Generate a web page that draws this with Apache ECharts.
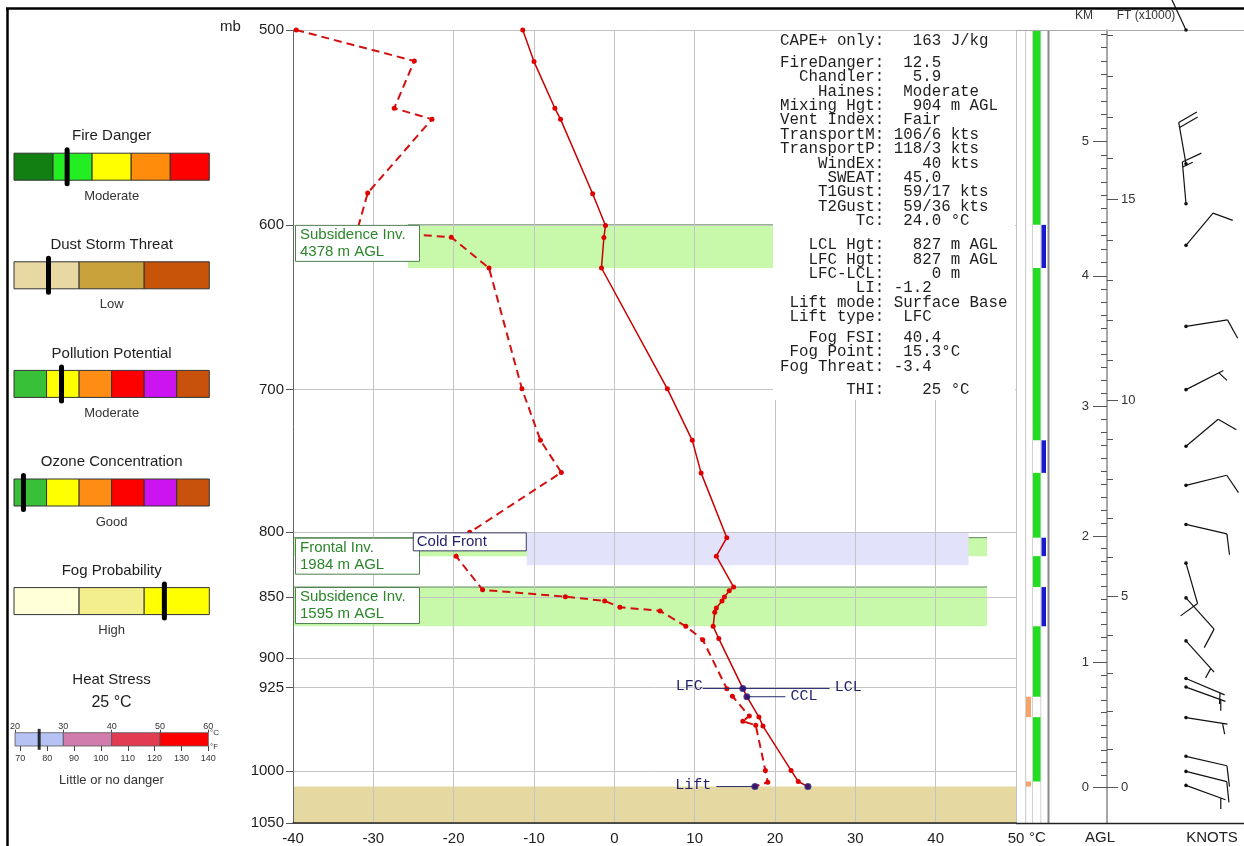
<!DOCTYPE html>
<html>
<head>
<meta charset="utf-8">
<title>Sounding</title>
<script src="https://cdn.jsdelivr.net/npm/echarts@6.0.0/dist/echarts.min.js"></script>
<style>
html,body{margin:0;padding:0;background:#fff;}
#chart{width:1244px;height:846px;}
</style>
</head>
<body>
<div id="chart"></div>
<script>
// ================= DATA =================
const pressureTicks = [500, 600, 700, 800, 850, 900, 925, 1000, 1050];

// Temperature profile (solid)
const tempPressure = [500, 515, 538, 543.5, 582.8, 600.4, 607.1, 624.7, 699.5, 734, 756.7, 804, 818, 842, 845, 849.9, 853, 858.6, 862, 873.5, 883.6, 925.8, 933, 950.9, 959, 999.6, 1010, 1014.8];
const tempValues   = [-11.4, -10.0, -7.4, -6.7, -2.7, -1.1, -1.3, -1.6, 6.6, 9.7, 10.8, 14.0, 12.7, 14.85, 14.3, 13.7, 13.4, 12.7, 12.5, 12.3, 13.0, 16.0, 16.5, 18.0, 18.5, 22.0, 22.9, 24.1];

// Dew point profile (dashed)
const dewPressure = [500, 514.7, 538, 543.5, 582.4, 603, 607, 624.7, 699.5, 734, 756.4, 800, 818, 844.2, 849.6, 853, 858, 861, 873.5, 884.5, 926, 932.6, 950, 954.6, 958.3, 999.6, 1010.7, 1014.8];
const dewValues   = [-39.6, -24.9, -27.4, -22.7, -30.7, -32.0, -20.3, -15.6, -11.5, -9.2, -6.6, -18.0, -19.7, -16.4, -6.1, -1.2, 0.7, 5.7, 8.9, 11.0, 14.0, 14.7, 16.8, 16.0, 17.6, 18.8, 19.1, 17.5];

// Inversion layers: [T from, T to, p top, p bottom]
const inversionBands = [[-25.7, 19.8, 600, 624.7], [-40, 46.4, 804, 818], [-40, 46.4, 842, 873.5]];
const inversionNames = ['Subsidence Inv.', 'Frontal Inv.', 'Subsidence Inv.'];
const inversionHeights = ['4378 m AGL', '1984 m AGL', '1595 m AGL'];
const frontBands = [[-10.9, 44.1, 800, 825]];
const frontNames = ['Cold Front'];
const groundBands = [[-40, 50, 1014.8, 1050]];

// Parcel levels
const parcelLeft  = ['LFC', '', 'Lift'];
const parcelRight = ['LCL', 'CCL', ''];
const parcelFromT = [11.0, 16.5, 12.7];
const parcelToT   = [26.8, 21.3, 17.5];
const parcelP     = [925.8, 933, 1014.8];
const parcelDotT  = [16.0, 16.5, 17.5, 24.1];
const parcelDotP  = [925.8, 933, 1014.8, 1014.8];

// Layer strip: [p top, p bottom]
const greenLayers  = [[500, 600], [624.7, 734], [756.7, 804], [818, 842], [873.5, 933], [951, 1010]];
const blueLayers   = [[600, 624.7], [734, 756.7], [804, 818], [842, 873.5]];
const orangeLayers = [[933, 951], [1010, 1014.8]];

// Height scale (label heights read as pressure levels)
const kmLevels   = [0, 1, 2, 3, 4, 5];
const kmPressure = [1015.6, 903.7, 802.8, 711.0, 629.3, 555.0];
const ftLevels   = [0, 5, 10, 15];

// Winds
const windPressure = [500, 566.7, 588.3, 611.6, 659.8, 700, 738.1, 765.6, 794.1, 823.4, 850.6, 885.5, 917.2, 924.6, 951.4, 986.5, 1000.5, 1013.7];
const windDir      = [335, 350, 355, 40, 81, 63, 50, 76, 103, 164, 138, 138, 113, 110, 99, 103, 104, 110];
const windSpeed    = [20, 20, 15, 10, 10, 5, 10, 10, 10, 10, 10, 5, 5, 5, 5, 10, 10, 5];

// Index gauges
const gaugeNames  = ['Fire Danger', 'Dust Storm Threat', 'Pollution Potential', 'Ozone Concentration', 'Fog Probability'];
const gaugeLevels = ['Moderate', 'Low', 'Moderate', 'Good', 'High'];
const gaugeColors = [
  ['#127f12', '#22ee22', '#ffff00', '#ff8c0a', '#ff0000'],
  ['#e8d9a2', '#c9a23c', '#c8540a'],
  ['#38c038', '#ffff00', '#ff8c14', '#ff0000', '#cc14f0', '#c8520c'],
  ['#38c038', '#ffff00', '#ff8c14', '#ff0000', '#cc14f0', '#c8520c'],
  ['#ffffd8', '#f3ef8c', '#ffff00']
];
const gaugeValues = [1.36, 0.53, 1.46, 0.29, 2.31];

// Heat stress
const heatValue = 25;
const heatStops = [20, 30, 40, 50, 60];
const heatColors = ['#b6c2f4', '#d07cac', '#e23c52', '#ff0000'];
const heatF = [70, 80, 90, 100, 110, 120, 130, 140];

// Stats panel
const statLabels = [
  ['CAPE+ only'],
  ['FireDanger', 'Chandler', 'Haines', 'Mixing Hgt', 'Vent Index', 'TransportM', 'TransportP', 'WindEx', 'SWEAT', 'T1Gust', 'T2Gust', 'Tc'],
  ['LCL Hgt', 'LFC Hgt', 'LFC-LCL', 'LI', 'Lift mode', 'Lift type'],
  ['Fog FSI', 'Fog Point', 'Fog Threat'],
  ['THI']
];
const statValues = [
  ['   163 J/kg'],
  ['  12.5', '   5.9', '  Moderate', '   904 m AGL', '  Fair', ' 106/6 kts', ' 118/3 kts', '    40 kts', '  45.0', '  59/17 kts', '  59/36 kts', '  24.0 °C'],
  ['   827 m AGL', '   827 m AGL', '     0 m', ' -1.2', ' Surface Base', '  LFC'],
  ['  40.4', '  15.3°C', ' -3.4'],
  ['    25 °C']
];

// ================= LAYOUT / STYLE =================
const SANS = '"Liberation Sans", Arial, sans-serif';
const MONO = '"Liberation Mono", "DejaVu Sans Mono", monospace';
const T_MIN = -40, T_MAX = 50;
const P_MIN = 500, P_MAX = 1050;
const MAIN = {left: 293, top: 30, width: 723, height: 793};

function lerpLogP(levels, pressures, v) {
  let i = 0;
  while (i < levels.length - 2 && v > levels[i + 1]) i++;
  const f = (v - levels[i]) / (levels[i + 1] - levels[i]);
  const a = Math.log(pressures[i]), b = Math.log(pressures[i + 1]);
  return Math.exp(a + (b - a) * f);
}
const kmToP = km => lerpLogP(kmLevels, kmPressure, km);
const kmMajorP = kmLevels.map(kmToP);
const kmMinorP = [];
for (let k = 0; k <= 60; k++) { const p = kmToP(k / 10); if (p >= P_MIN && k % 10 !== 0) kmMinorP.push(p); }
const ftMajorP = ftLevels.map(f => kmToP(f * 0.3048));
const ftMinorP = [];
for (let f = 0; f <= 20; f++) { const p = kmToP(f * 0.3048); if (p >= P_MIN && f % 5 !== 0) ftMinorP.push(p); }
function nearestLabel(values, labels, v) {
  let best = 0;
  values.forEach((x, i) => { if (Math.abs(x - v) < Math.abs(values[best] - v)) best = i; });
  return String(labels[best]);
}

function logAxis(grid, extra) {
  return Object.assign({
    type: 'log', logBase: 10, gridIndex: grid, min: P_MIN, max: P_MAX, inverse: true,
    show: false, axisLine: {onZero: false}
  }, extra || {});
}

// ================= RENDERERS =================
const bandStyles = {
  inv: {fill: '#c8f8aa', edge: '#5e8a5e'},
  front: {fill: '#e2e2fa'},
  ground: {fill: '#e5d8a0'}
};
function bandRenderer(style) {
  return function (params, api) {
    const a = api.coord([api.value(0), api.value(2)]);
    const b = api.coord([api.value(1), api.value(3)]);
    const ch = [{type: 'rect', shape: {x: a[0], y: a[1], width: b[0] - a[0], height: b[1] - a[1]}, style: {fill: style.fill}}];
    if (style.edge) ch.push({type: 'line', shape: {x1: a[0], y1: a[1], x2: b[0], y2: a[1]}, style: {stroke: style.edge, lineWidth: 1}});
    return {type: 'group', children: ch};
  };
}
function invLabelRenderer(params, api) {
  const a = api.coord([T_MIN, api.value(2)]);
  const x = a[0] + 2, y = a[1];
  const i = params.dataIndex;
  return {type: 'group', children: [
    {type: 'rect', shape: {x: x + 0.5, y: y + 0.5, width: 124, height: 36}, style: {fill: '#fff', stroke: '#4f804f', lineWidth: 1}},
    {type: 'text', style: {text: inversionNames[i], x: x + 5, y: y + 10, verticalAlign: 'middle', font: '15px ' + SANS, fill: '#2b862b'}},
    {type: 'text', style: {text: inversionHeights[i], x: x + 5, y: y + 27, verticalAlign: 'middle', font: '15px ' + SANS, fill: '#2b862b'}}
  ]};
}
function frontLabelRenderer(params, api) {
  const a = api.coord([api.value(0), api.value(2)]);
  const w = 113, x = a[0] - w - 1, y = a[1];
  return {type: 'group', children: [
    {type: 'rect', shape: {x: x + 0.5, y: y + 0.5, width: w, height: 18}, style: {fill: '#fff', stroke: '#3a3a66', lineWidth: 1}},
    {type: 'text', style: {text: frontNames[params.dataIndex], x: x + 4, y: y + 10, verticalAlign: 'middle', font: '15px ' + SANS, fill: '#23236e'}}
  ]};
}
function parcelRenderer(params, api) {
  const i = params.dataIndex;
  const a = api.coord([api.value(0), api.value(2)]);
  const b = api.coord([api.value(1), api.value(2)]);
  const ch = [{type: 'line', shape: {x1: a[0], y1: a[1], x2: b[0], y2: b[1]}, style: {stroke: '#2b2b70', lineWidth: 1}}];
  if (parcelLeft[i]) ch.push({type: 'text', style: {text: parcelLeft[i], x: a[0] - (i === 2 ? 5 : 0), y: a[1] - 2, align: 'right', verticalAlign: 'middle', font: '15px ' + MONO, fill: '#22226e'}});
  if (parcelRight[i]) ch.push({type: 'text', style: {text: parcelRight[i], x: b[0] + 5, y: b[1] - 1, align: 'left', verticalAlign: 'middle', font: '15px ' + MONO, fill: '#22226e'}});
  return {type: 'group', children: ch};
}
const stripCols = {orange: [10, 15], green: [17, 24.5], blue: [25.5, 30]};
const stripColors = {orange: '#f4a46a', green: '#22dd22', blue: '#1a1acc'};
function stripRenderer(kind) {
  return function (params, api) {
    const a = api.coord([stripCols[kind][0], api.value(0)]);
    const b = api.coord([stripCols[kind][1], api.value(1)]);
    return {type: 'rect', shape: {x: a[0], y: a[1], width: b[0] - a[0], height: b[1] - a[1]}, style: {fill: stripColors[kind]}};
  };
}
function barbRenderer(params, api) {
  const pt = api.coord([0, api.value(1)]);
  const dir = api.value(2) * Math.PI / 180;
  const spd = api.value(3);
  const L = 42;
  const ux = Math.sin(dir), uy = -Math.cos(dir);
  const tx = pt[0] + ux * L, ty = pt[1] + uy * L;
  const th = 70 * Math.PI / 180;
  const bx = ux * Math.cos(th) - uy * Math.sin(th);
  const by = ux * Math.sin(th) + uy * Math.cos(th);
  const ch = [
    {type: 'line', shape: {x1: pt[0], y1: pt[1], x2: tx, y2: ty}, style: {stroke: '#111', lineWidth: 1.2}},
    {type: 'circle', shape: {cx: pt[0], cy: pt[1], r: 1.8}, style: {fill: '#111'}}
  ];
  const full = Math.floor(spd / 10), half = (spd % 10) >= 5 ? 1 : 0;
  let k = 0;
  for (let j = 0; j < full; j++, k++) {
    const ox = tx - ux * k * 5, oy = ty - uy * k * 5;
    ch.push({type: 'line', shape: {x1: ox, y1: oy, x2: ox + bx * 21, y2: oy + by * 21}, style: {stroke: '#111', lineWidth: 1.2}});
  }
  if (half) {
    if (k === 0) k = 1;
    const ox = tx - ux * k * 5, oy = ty - uy * k * 5;
    ch.push({type: 'line', shape: {x1: ox, y1: oy, x2: ox + bx * 11, y2: oy + by * 11}, style: {stroke: '#111', lineWidth: 1.2}});
  }
  return {type: 'group', children: ch};
}
function gaugeRenderer(params, api) {
  const i = params.dataIndex;
  const cols = gaugeColors[i];
  const n = cols.length;
  const l = api.coord([0, i]);
  const r = api.coord([1, i]);
  const cy = l[1], left = l[0], w = r[0] - l[0], h = 27;
  const ch = [];
  cols.forEach((c, k) => ch.push({type: 'rect', shape: {x: left + w * k / n, y: cy - h / 2, width: w / n, height: h}, style: {fill: c, stroke: '#333', lineWidth: 1}}));
  const mx = left + w * gaugeValues[i] / n;
  ch.push({type: 'rect', shape: {x: mx - 2.5, y: cy - 19.5, width: 5, height: 39, r: 2.5}, style: {fill: '#000'}});
  ch.push({type: 'text', style: {text: gaugeNames[i], x: left + w / 2, y: cy - 30.5, align: 'center', verticalAlign: 'middle', font: '15px ' + SANS, fill: '#1e1e1e'}});
  ch.push({type: 'text', style: {text: gaugeLevels[i], x: left + w / 2, y: cy + 29.5, align: 'center', verticalAlign: 'middle', font: '13px ' + SANS, fill: '#333'}});
  return {type: 'group', children: ch};
}
function heatRenderer(params, api) {
  const i = params.dataIndex;
  const a = api.coord([heatStops[i], 0]);
  const b = api.coord([heatStops[i + 1], 0]);
  const hh = api.size([0, 1])[1];
  return {type: 'rect', shape: {x: a[0], y: a[1] - hh / 2, width: b[0] - a[0], height: hh}, style: {fill: heatColors[i], stroke: '#555', lineWidth: 0.8}};
}

// ================= GRAPHIC (text panels / frame) =================
const graphics = [];
graphics.push({type: 'line', shape: {x1: 6, y1: 8.5, x2: 1244, y2: 8.5}, style: {stroke: '#000', lineWidth: 2.5}, z: 10});
graphics.push({type: 'line', shape: {x1: 7.5, y1: 8, x2: 7.5, y2: 846}, style: {stroke: '#000', lineWidth: 2.5}, z: 10});
graphics.push({type: 'text', style: {text: 'mb', x: 220, y: 27, verticalAlign: 'middle', font: '15px ' + SANS, fill: '#222'}, z: 10});
graphics.push({type: 'text', style: {text: '°C', x: 1029, y: 838, verticalAlign: 'middle', font: '15px ' + SANS, fill: '#222'}, z: 10});
graphics.push({type: 'text', style: {text: 'KM', x: 1084, y: 16, align: 'center', verticalAlign: 'middle', font: '12px ' + SANS, fill: '#333'}, z: 10});
graphics.push({type: 'text', style: {text: 'FT (x1000)', x: 1146, y: 16, align: 'center', verticalAlign: 'middle', font: '12px ' + SANS, fill: '#333'}, z: 10});
graphics.push({type: 'text', style: {text: 'AGL', x: 1100, y: 838, align: 'center', verticalAlign: 'middle', font: '15px ' + SANS, fill: '#222'}, z: 10});
graphics.push({type: 'text', style: {text: 'KNOTS', x: 1212, y: 838, align: 'center', verticalAlign: 'middle', font: '15px ' + SANS, fill: '#222'}, z: 10});
graphics.push({type: 'line', shape: {x1: 1016, y1: 30.5, x2: 1244, y2: 30.5}, style: {stroke: '#a8a8a8', lineWidth: 1}, z: 3});
graphics.push({type: 'line', shape: {x1: 1016, y1: 823.5, x2: 1244, y2: 823.5}, style: {stroke: '#222', lineWidth: 1.5}, z: 3});
[[1025.7, '#c8c8c8', 1], [1032.5, '#d0d0d0', 1], [1040.8, '#d0d0d0', 1], [1048.5, '#8a8a8a', 2]].forEach(v => {
  graphics.push({type: 'line', shape: {x1: v[0], y1: 30, x2: v[0], y2: 823}, style: {stroke: v[1], lineWidth: v[2]}, z: 1});
});
// stats panel
graphics.push({type: 'rect', shape: {x: 773, y: 31, width: 242, height: 369}, style: {fill: '#fff'}, z: 2.5});
const statStarts = [41, 62.7, 245, 337.7, 390];
statLabels.forEach((grp, g) => {
  grp.forEach((lab, j) => {
    graphics.push({type: 'text', style: {text: (lab + ':').padStart(11, ' ') + statValues[g][j], x: 780, y: statStarts[g] + j * 14.4,
      verticalAlign: 'middle', font: '15.8px ' + MONO, fill: '#1e1e1e'}, z: 2.6});
  });
});
// heat stress texts
graphics.push({type: 'text', style: {text: 'Heat Stress', x: 111.5, y: 680, align: 'center', verticalAlign: 'middle', font: '15px ' + SANS, fill: '#1e1e1e'}, z: 10});
graphics.push({type: 'text', style: {text: heatValue + ' °C', x: 111.5, y: 703, align: 'center', verticalAlign: 'middle', font: '16px ' + SANS, fill: '#1e1e1e'}, z: 10});
graphics.push({type: 'text', style: {text: 'Little or no danger', x: 111.5, y: 780, align: 'center', verticalAlign: 'middle', font: '13px ' + SANS, fill: '#333'}, z: 10});
graphics.push({type: 'text', style: {text: '°C', x: 210, y: 733, verticalAlign: 'middle', font: '8px ' + SANS, fill: '#333'}, z: 10});
graphics.push({type: 'text', style: {text: '°F', x: 210, y: 747, verticalAlign: 'middle', font: '8px ' + SANS, fill: '#333'}, z: 10});

// ================= OPTION =================
const option = {
  animation: false,
  backgroundColor: '#fff',
  textStyle: {fontFamily: SANS},
  grid: [
    Object.assign({outerBoundsMode: 'none', containLabel: false}, MAIN),                         // 0 main
    {left: 1016, top: 30, width: 34, height: 793, outerBoundsMode: 'none', containLabel: false},  // 1 strip
    {left: 1107, top: 30, width: 136, height: 793, outerBoundsMode: 'none', containLabel: false}, // 2 height
    {left: 1130, top: 30, width: 112, height: 793, outerBoundsMode: 'none', containLabel: false}, // 3 barbs
    {left: 14, top: 112.4, width: 195.3, height: 543, outerBoundsMode: 'none', containLabel: false}, // 4 gauges
    {left: 15, top: 732.7, width: 193.3, height: 13.3, outerBoundsMode: 'none', containLabel: false} // 5 heat
  ],
  xAxis: [
    {type: 'value', gridIndex: 0, min: T_MIN, max: T_MAX, interval: 10, z: 2,
      axisLine: {onZero: false, lineStyle: {color: '#222', width: 1.5}},
      axisTick: {show: false},
      axisLabel: {fontSize: 15, color: '#1e1e1e', margin: 8, fontFamily: SANS, showMinLabel: true, showMaxLabel: true},
      splitLine: {show: true, lineStyle: {color: '#c4c4c4', width: 1}}},
    {type: 'value', gridIndex: 1, min: 0, max: 34, show: false},
    {type: 'value', gridIndex: 2, min: 0, max: 1, show: false},
    {type: 'category', gridIndex: 3, data: ['w'], show: false},
    {type: 'value', gridIndex: 4, min: 0, max: 1, show: false},
    {type: 'value', gridIndex: 5, min: 20, max: 60, interval: 10, position: 'top',
      axisLine: {show: false, onZero: false}, splitLine: {show: false},
      axisTick: {show: true, length: 3, lineStyle: {color: '#444'}},
      axisLabel: {fontSize: 9, color: '#333', margin: 2, showMinLabel: true, showMaxLabel: true}},
    {type: 'value', gridIndex: 5, min: 68, max: 140, position: 'bottom',
      axisLine: {show: false, onZero: false}, splitLine: {show: false},
      axisTick: {show: true, length: 5, customValues: heatF, lineStyle: {color: '#444'}},
      axisLabel: {fontSize: 9, color: '#333', margin: 8, customValues: heatF}}
  ],
  yAxis: [
    logAxis(0, {show: true, z: 2,
      axisLine: {show: true, onZero: false, lineStyle: {color: '#666', width: 1}},
      axisTick: {show: true, length: 7, customValues: pressureTicks, lineStyle: {color: '#555'}},
      axisLabel: {show: true, customValues: pressureTicks, fontSize: 15, color: '#1e1e1e', margin: 9, fontFamily: SANS,
        formatter: v => String(Math.round(v))},
      splitLine: {show: true, lineStyle: {color: '#c4c4c4', width: 1}}}),
    logAxis(1),
    logAxis(2, {show: true, position: 'left', offset: 0,
      axisLine: {show: true, onZero: false, lineStyle: {color: '#8a8a8a', width: 1.5}},
      axisTick: {show: true, length: 14, customValues: kmMajorP, lineStyle: {color: '#555'}},
      axisLabel: {show: true, customValues: kmMajorP, fontSize: 13, color: '#333', margin: 18,
        formatter: v => nearestLabel(kmMajorP, kmLevels, v)},
      splitLine: {show: false}}),
    logAxis(2, {show: true, position: 'left', offset: 0,
      axisLine: {show: false, onZero: false},
      axisTick: {show: true, length: 6, customValues: kmMinorP, lineStyle: {color: '#555'}},
      axisLabel: {show: false}, splitLine: {show: false}}),
    logAxis(2, {show: true, position: 'left', offset: 0,
      axisLine: {show: false, onZero: false},
      axisTick: {show: true, inside: true, length: 11, customValues: ftMajorP, lineStyle: {color: '#555'}},
      axisLabel: {show: true, inside: true, customValues: ftMajorP, fontSize: 13, color: '#333', margin: 14,
        formatter: v => nearestLabel(ftMajorP, ftLevels, v)},
      splitLine: {show: false}}),
    logAxis(2, {show: true, position: 'left', offset: 0,
      axisLine: {show: false, onZero: false},
      axisTick: {show: true, inside: true, length: 6, customValues: ftMinorP, lineStyle: {color: '#555'}},
      axisLabel: {show: false}, splitLine: {show: false}}),
    logAxis(3),
    {type: 'category', gridIndex: 4, data: gaugeNames, inverse: true, show: false},
    {type: 'category', gridIndex: 5, data: ['h'], show: false}
  ],
  graphic: {elements: graphics},
  series: [
    {type: 'custom', name: 'ground', xAxisIndex: 0, yAxisIndex: 0, z: 1, renderItem: bandRenderer(bandStyles.ground),
      encode: {x: [0, 1], y: [2, 3]}, data: groundBands, silent: true},
    {type: 'custom', name: 'inversions', xAxisIndex: 0, yAxisIndex: 0, z: 1, renderItem: bandRenderer(bandStyles.inv),
      encode: {x: [0, 1], y: [2, 3]}, data: inversionBands, silent: true},
    {type: 'custom', name: 'front', xAxisIndex: 0, yAxisIndex: 0, z: 1.2, renderItem: bandRenderer(bandStyles.front),
      encode: {x: [0, 1], y: [2, 3]}, data: frontBands, silent: true},
    {type: 'line', name: 'Temperature', xAxisIndex: 0, yAxisIndex: 0, z: 3,
      data: tempValues.map((t, i) => [t, tempPressure[i]]),
      symbol: 'circle', symbolSize: 5, showSymbol: true,
      lineStyle: {color: '#c80000', width: 1.5}, itemStyle: {color: '#e00000'}},
    {type: 'line', name: 'Dew point', xAxisIndex: 0, yAxisIndex: 0, z: 3,
      data: dewValues.map((t, i) => [t, dewPressure[i]]),
      symbol: 'circle', symbolSize: 5, showSymbol: true,
      lineStyle: {color: '#d21010', width: 2, type: [8, 5]}, itemStyle: {color: '#e00000'}},
    {type: 'custom', name: 'parcel', xAxisIndex: 0, yAxisIndex: 0, z: 4, renderItem: parcelRenderer,
      encode: {x: [0, 1], y: 2}, data: parcelP.map((p, i) => [parcelFromT[i], parcelToT[i], p]), silent: true},
    {type: 'scatter', name: 'parcel points', xAxisIndex: 0, yAxisIndex: 0, z: 5,
      data: parcelDotT.map((t, i) => [t, parcelDotP[i]]), symbolSize: 7, itemStyle: {color: '#1a1a80'}},
    {type: 'custom', name: 'inv labels', xAxisIndex: 0, yAxisIndex: 0, z: 6, renderItem: invLabelRenderer,
      encode: {x: [0, 1], y: [2, 3]}, data: inversionBands, silent: true},
    {type: 'custom', name: 'front labels', xAxisIndex: 0, yAxisIndex: 0, z: 6, renderItem: frontLabelRenderer,
      encode: {x: [0, 1], y: [2, 3]}, data: frontBands, silent: true},
    {type: 'custom', name: 'green', xAxisIndex: 1, yAxisIndex: 1, z: 2, renderItem: stripRenderer('green'),
      encode: {y: [0, 1]}, data: greenLayers, silent: true},
    {type: 'custom', name: 'blue', xAxisIndex: 1, yAxisIndex: 1, z: 2, renderItem: stripRenderer('blue'),
      encode: {y: [0, 1]}, data: blueLayers, silent: true},
    {type: 'custom', name: 'orange', xAxisIndex: 1, yAxisIndex: 1, z: 2, renderItem: stripRenderer('orange'),
      encode: {y: [0, 1]}, data: orangeLayers, silent: true},
    {type: 'custom', name: 'wind', xAxisIndex: 3, yAxisIndex: 6, z: 4, renderItem: barbRenderer, clip: false,
      encode: {x: 0, y: 1}, data: windPressure.map((p, i) => [0, p, windDir[i], windSpeed[i]]), silent: true},
    {type: 'custom', name: 'gauges', xAxisIndex: 4, yAxisIndex: 7, z: 4, renderItem: gaugeRenderer,
      encode: {x: 0, y: 1}, data: gaugeNames.map((n, i) => [0, i]), silent: true},
    {type: 'custom', name: 'heat', xAxisIndex: 5, yAxisIndex: 8, z: 4, renderItem: heatRenderer,
      encode: {x: 0, y: 1}, data: heatColors.map((c, i) => [heatStops[i], 0]), silent: true},
    {type: 'scatter', name: 'heat marker', xAxisIndex: 5, yAxisIndex: 8, z: 5,
      data: [[heatValue, 0]], symbol: 'rect', symbolSize: [3, 21], itemStyle: {color: '#000'}, silent: true}
  ]
};

const chart = echarts.init(document.getElementById('chart'), null, {renderer: 'canvas'});
chart.setOption(option);
</script>
</body>
</html>
